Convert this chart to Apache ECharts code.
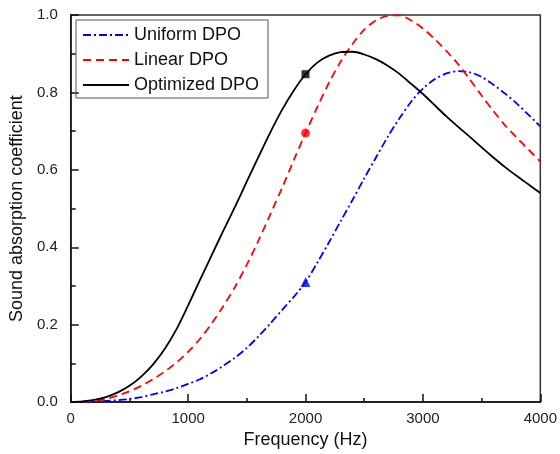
<!DOCTYPE html>
<html>
<head>
    <meta charset="UTF-8">
    <title>absorption</title>
    <script type="text/javascript" src="https://cdn.jsdelivr.net/npm/echarts@6/dist/echarts.min.js"></script>
</head>
<style>
    html, body { margin: 0; padding: 0; background: #fff; }
    .main { width: 560px; height: 454px; }
</style>
<body>
<div id="charts" class="main"></div>
<script type="text/javascript">
    // frequency (Hz), 100 Hz step
    var freq = [0, 100, 200, 300, 400, 500, 600, 700, 800, 900, 1000,
        1100, 1200, 1300, 1400, 1500, 1600, 1700, 1800, 1900, 2000,
        2100, 2200, 2300, 2400, 2500, 2600, 2700, 2800, 2900, 3000,
        3100, 3200, 3300, 3400, 3500, 3600, 3700, 3800, 3900, 4000];
    var uniformDpo = [0, 0, 0.001, 0.003, 0.005, 0.008, 0.013, 0.02, 0.027, 0.036, 0.047,
        0.059, 0.075, 0.094, 0.115, 0.14, 0.17, 0.203, 0.238, 0.272, 0.31,
        0.36, 0.413, 0.468, 0.522, 0.578, 0.632, 0.685, 0.733, 0.776, 0.81,
        0.834, 0.849, 0.855, 0.852, 0.84, 0.82, 0.797, 0.771, 0.742, 0.712];
    var linearDpo = [0, 0.001, 0.003, 0.008, 0.017, 0.028, 0.042, 0.059, 0.079, 0.102, 0.13,
        0.163, 0.203, 0.248, 0.298, 0.355, 0.418, 0.485, 0.553, 0.625, 0.695,
        0.762, 0.825, 0.88, 0.925, 0.962, 0.986, 0.998, 0.999, 0.986, 0.965,
        0.938, 0.907, 0.873, 0.833, 0.792, 0.752, 0.715, 0.683, 0.652, 0.622];
    var optimizedDpo = [0, 0.002, 0.006, 0.013, 0.025, 0.042, 0.066, 0.097, 0.137, 0.188, 0.25,
        0.315, 0.379, 0.443, 0.505, 0.57, 0.634, 0.697, 0.755, 0.805, 0.847,
        0.877, 0.895, 0.904, 0.905, 0.898, 0.886, 0.869, 0.848, 0.822, 0.796,
        0.767, 0.738, 0.711, 0.685, 0.658, 0.632, 0.607, 0.584, 0.562, 0.54];
    var names = ['Uniform DPO', 'Linear DPO', 'Optimized DPO'];
    var markIdx = 20; // 2000 Hz

    function pairs(arr) {
        return freq.map(function (f, i) { return [f, arr[i]]; });
    }

    var chart = echarts.init(document.getElementById('charts'));
    var font = 'Liberation Sans, Arial, sans-serif';
    var option = {
        animation: false,
        textStyle: { fontFamily: font },
        grid: {
            left: 68, right: 18, top: 15, bottom: 49,
            show: true, borderColor: '#333', borderWidth: 1.5
        },
        legend: {
            orient: 'vertical',
            left: 76, top: 20,
            padding: [6, 9, 4, 6],
            itemGap: 7,
            itemWidth: 46, itemHeight: 14,
            borderColor: '#555', borderWidth: 1,
            itemStyle: { opacity: 0 },
            textStyle: { fontSize: 18, color: '#111', fontFamily: font },
            data: names
        },
        xAxis: {
            type: 'value',
            min: 0, max: 4000, interval: 1000,
            name: 'Frequency (Hz)',
            nameLocation: 'middle', nameGap: 27,
            nameTextStyle: { fontSize: 18, color: '#111' },
            axisLine: { lineStyle: { color: '#111', width: 1.5 } },
            axisTick: { inside: true, length: 8, lineStyle: { color: '#111', width: 1.5 } },
            minorTick: { show: true, splitNumber: 2, length: 4, lineStyle: { color: '#111', width: 1.5 } },
            axisLabel: {
                fontSize: 15, color: '#222', margin: 9,
                formatter: function (v) { return String(v); }
            },
            splitLine: { show: false }
        },
        yAxis: {
            type: 'value',
            min: 0, max: 1, interval: 0.2,
            name: 'Sound absorption coefficient',
            nameLocation: 'middle', nameGap: 33,
            nameTextStyle: { fontSize: 18, color: '#111' },
            axisLine: { lineStyle: { color: '#111', width: 1.5 } },
            axisTick: { inside: true, length: 8, lineStyle: { color: '#111', width: 1.5 } },
            minorTick: { show: true, splitNumber: 2, length: 5, lineStyle: { color: '#111', width: 1.5 } },
            axisLabel: {
                fontSize: 15, color: '#222', margin: 13,
                formatter: function (v) { return v.toFixed(1); }
            },
            splitLine: { show: false }
        },
        series: [
            {
                name: names[0], type: 'line', data: pairs(uniformDpo),
                smooth: 0.3, symbol: 'none', color: '#0000ff',
                lineStyle: { color: '#0000ff', width: 1.8, type: [8, 3, 2, 3] }
            },
            {
                name: names[1], type: 'line', data: pairs(linearDpo),
                smooth: 0.3, symbol: 'none', color: '#ff0000',
                lineStyle: { color: '#ff0000', width: 1.8, type: [8, 5] }
            },
            {
                name: names[2], type: 'line', data: pairs(optimizedDpo),
                smooth: 0.3, symbol: 'none', color: '#000000',
                lineStyle: { color: '#000000', width: 1.8, type: 'solid' }
            },
            {
                type: 'scatter', symbol: 'triangle', symbolSize: 10,
                itemStyle: { color: '#0000ff' },
                data: [[freq[markIdx], uniformDpo[markIdx]]]
            },
            {
                type: 'scatter', symbol: 'circle', symbolSize: 9,
                itemStyle: { color: '#ff0000' },
                data: [[freq[markIdx], linearDpo[markIdx]]]
            },
            {
                type: 'scatter', symbol: 'rect', symbolSize: 8,
                itemStyle: { color: '#000000' },
                data: [[freq[markIdx], optimizedDpo[markIdx]]]
            }
        ]
    };
    chart.setOption(option);
</script>
</body>
</html>
